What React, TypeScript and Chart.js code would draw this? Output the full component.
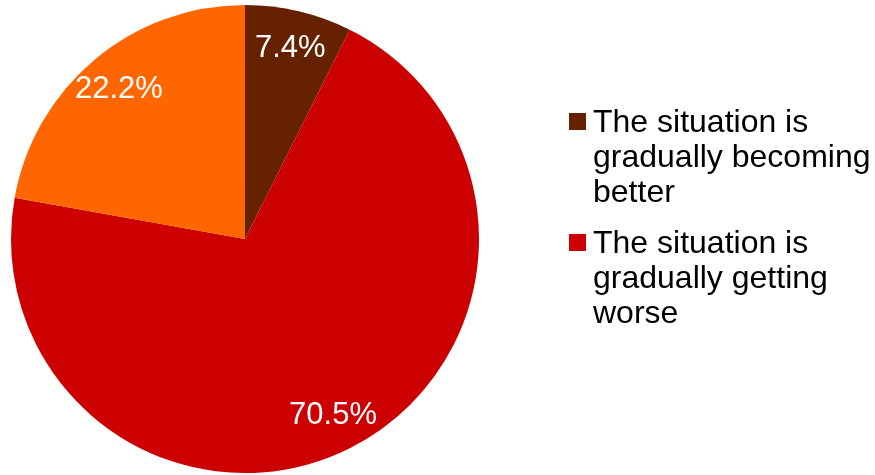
import React, { useEffect, useRef } from "react";
import { Chart, registerables } from "chart.js";

Chart.register(...registerables);

const categories = [
  "The situation is gradually becoming better",
  "The situation is gradually getting worse",
  "The situation has not changed",
];
const values = [7.4, 70.5, 22.2];
const colors = ["#662200", "#CC0000", "#FF6600"];
const legendShown = 2;

const FONT = "Liberation Sans, Arial, sans-serif";

const sliceLabels = {
  id: "sliceLabels",
  afterDatasetsDraw(chart: any) {
    const ctx = chart.ctx;
    const meta = chart.getDatasetMeta(0);
    ctx.save();
    ctx.fillStyle = "#ffffff";
    ctx.font = `31px ${FONT}`;
    ctx.textAlign = "center";
    ctx.textBaseline = "middle";
    meta.data.forEach((arc: any, i: number) => {
      const p = arc.getProps(["x", "y", "startAngle", "endAngle", "outerRadius"], true);
      const mid = (p.startAngle + p.endAngle) / 2;
      const r = p.outerRadius * 0.84;
      ctx.fillText(values[i].toFixed(1) + "%", p.x + Math.cos(mid) * r, p.y + Math.sin(mid) * r + 1);
    });
    ctx.restore();
  },
};

const sideLegend = {
  id: "sideLegend",
  afterDraw(chart: any) {
    const ctx = chart.ctx;
    const boxX = 569;
    const boxSize = 17;
    const textX = 593;
    const maxW = 280;
    const lineH = 35;
    const gap = 16;
    let baseline = 132;
    ctx.save();
    ctx.font = `32px ${FONT}`;
    ctx.textAlign = "left";
    ctx.textBaseline = "alphabetic";
    for (let i = 0; i < legendShown; i++) {
      const words = categories[i].split(" ");
      const lines: string[] = [];
      let cur = "";
      for (const w of words) {
        const t = cur ? cur + " " + w : w;
        if (ctx.measureText(t).width > maxW && cur) {
          lines.push(cur);
          cur = w;
        } else cur = t;
      }
      if (cur) lines.push(cur);
      ctx.fillStyle = colors[i];
      ctx.fillRect(boxX, baseline - 19, boxSize, boxSize);
      ctx.fillStyle = "#000000";
      lines.forEach((l, j) => ctx.fillText(l, textX, baseline + j * lineH));
      baseline += lines.length * lineH + gap;
    }
    ctx.restore();
  },
};

export default function App() {
  const ref = useRef<HTMLCanvasElement>(null);
  useEffect(() => {
    if (!ref.current) return;
    const chart = new Chart(ref.current, {
      type: "pie",
      data: {
        labels: categories,
        datasets: [
          {
            data: values,
            backgroundColor: colors,
            borderWidth: 0,
          },
        ],
      },
      options: {
        responsive: false,
        animation: false,
        layout: { padding: { left: 11, top: 5, right: 396, bottom: 2 } },
        plugins: {
          legend: { display: false },
          tooltip: { enabled: false },
        },
      },
      plugins: [sliceLabels, sideLegend],
    });
    return () => chart.destroy();
  }, []);
  return (
    <div style={{ position: "fixed", left: 0, top: 0, width: 875, height: 475, background: "#fff" }}>
      <canvas ref={ref} width={875} height={475} />
    </div>
  );
}
